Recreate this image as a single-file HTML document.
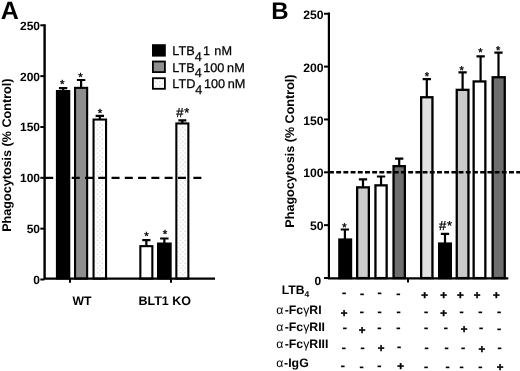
<!DOCTYPE html>
<html><head><meta charset="utf-8"><title>Figure</title>
<style>html,body{margin:0;padding:0;background:#fff;}body{width:520px;height:371px;overflow:hidden;}svg{display:block;filter:grayscale(1);}text{text-rendering:geometricPrecision;}text{font-family:"Liberation Sans",Arial,Helvetica,sans-serif;fill:#000;}.b{font-weight:bold;}</style>
</head><body>
<svg width="520" height="371" viewBox="0 0 520 371">
<defs><pattern id="dots" width="4.6" height="4.6" patternUnits="userSpaceOnUse"><rect width="4.6" height="4.6" fill="#fff"/><rect x="0.6" y="0.6" width="1.1" height="1.1" fill="#c4c4c4"/><rect x="2.9" y="2.9" width="1.1" height="1.1" fill="#c4c4c4"/></pattern></defs>
<rect width="520" height="371" fill="#fff"/>
<g id="panelA">
<text x="0.8" y="19.2" font-size="25" class="b">A</text>
<path d="M63.1 91V88.2M58.9 88.2H67.3" stroke="#000" stroke-width="2.2" fill="none"/><rect x="56.8" y="90.9" width="12.6" height="187.7" fill="#000" stroke="#000" stroke-width="1.8"/>
<path d="M81.1 87.8V80M76.9 80H85.3" stroke="#000" stroke-width="2.2" fill="none"/><rect x="75.05" y="87.85" width="12.1" height="190.75" fill="#8e8e8e" stroke="#000" stroke-width="2.1"/>
<path d="M99.8 119.5V115.8M95.6 115.8H104" stroke="#000" stroke-width="2.2" fill="none"/><rect x="93.55" y="119.55" width="12.5" height="159.05" fill="#fff" stroke="#000" stroke-width="2.1"/><rect x="95.6" y="121.6" width="8.4" height="155.5" fill="url(#dots)"/>
<path d="M146.35 246.1V240.2M142.25 240.2H150.45" stroke="#000" stroke-width="2.2" fill="none"/><rect x="140.35" y="246.15" width="12" height="32.45" fill="#fff" stroke="#000" stroke-width="2.1"/>
<path d="M164.35 243.5V238.5M160.15 238.5H168.55" stroke="#000" stroke-width="2.2" fill="none"/><rect x="157.9" y="243.4" width="12.9" height="35.2" fill="#000" stroke="#000" stroke-width="1.8"/>
<path d="M182.35 123.4V120.3M178.35 120.3H186.35" stroke="#000" stroke-width="2.2" fill="none"/><rect x="176.35" y="123.45" width="12" height="155.15" fill="#fff" stroke="#000" stroke-width="2.1"/><rect x="178.4" y="125.5" width="7.9" height="151.6" fill="url(#dots)"/>
<path d="M45.2 177.82H190M193.4 177.82H201.6" stroke="#000" stroke-width="2.3" stroke-dasharray="8 5.27" fill="none"/>
<path d="M44.6 24.3V279.8M43.4 278.6H215" stroke="#000" stroke-width="2.4" fill="none"/>
<path d="M40.3 279.5H44.5" stroke="#000" stroke-width="2" fill="none"/>
<text x="40" y="283.9" font-size="12" class="b" text-anchor="end">0</text>
<path d="M40.3 228.66H44.5" stroke="#000" stroke-width="2" fill="none"/>
<text x="40" y="233.06" font-size="12" class="b" text-anchor="end">50</text>
<path d="M40.3 177.82H44.5" stroke="#000" stroke-width="2" fill="none"/>
<text x="40" y="182.22" font-size="12" class="b" text-anchor="end">100</text>
<path d="M40.3 126.98H44.5" stroke="#000" stroke-width="2" fill="none"/>
<text x="40" y="131.38" font-size="12" class="b" text-anchor="end">150</text>
<path d="M40.3 76.14H44.5" stroke="#000" stroke-width="2" fill="none"/>
<text x="40" y="80.54" font-size="12" class="b" text-anchor="end">200</text>
<path d="M40.3 25.3H44.5" stroke="#000" stroke-width="2" fill="none"/>
<text x="40" y="29.7" font-size="12" class="b" text-anchor="end">250</text>
<path d="M70 279V282.8M171 279V282.8" stroke="#000" stroke-width="2" fill="none"/>
<text transform="translate(10.6 231.8) rotate(-90)" font-size="12.6" class="b">Phagocytosis (% Control)</text>
<text x="82" y="305.1" font-size="12.2" class="b" text-anchor="middle">WT</text>
<text x="164.7" y="305.1" font-size="12.5" class="b" text-anchor="middle">BLT1 KO</text>
<text x="62.35" y="88.3" font-size="11.6" text-anchor="middle" stroke="#000" stroke-width="0.35">*</text>
<text x="80.6" y="80.6" font-size="11.6" text-anchor="middle" stroke="#000" stroke-width="0.35">*</text>
<text x="100" y="116.8" font-size="11.6" text-anchor="middle" stroke="#000" stroke-width="0.35">*</text>
<text x="146.4" y="239.8" font-size="11.6" text-anchor="middle" stroke="#000" stroke-width="0.35">*</text>
<text x="165" y="238.4" font-size="11.6" text-anchor="middle" stroke="#000" stroke-width="0.35">*</text>
<text x="176.2" y="117.2" font-size="13" stroke="#000" stroke-width="0.3">#<tspan dx="0.8">*</tspan></text>
<rect x="152" y="44.2" width="13.8" height="12.4" fill="#000"/>
<rect x="152.9" y="61.5" width="12" height="10.6" fill="#8e8e8e" stroke="#000" stroke-width="1.8"/>
<rect x="152.9" y="78.2" width="12" height="10.6" fill="url(#dots)" stroke="#000" stroke-width="1.8"/>
<text x="172.3" y="55.3" font-size="12.7" stroke="#000" stroke-width="0.25" word-spacing="0.8">LTB<tspan dy="5.3">4</tspan><tspan dy="-5.3" dx="1.3">1 nM</tspan></text>
<text x="172.3" y="71.8" font-size="12.7" stroke="#000" stroke-width="0.25" word-spacing="-0.8">LTB<tspan dy="5.3">4</tspan><tspan dy="-5.3" dx="1.5">100 nM</tspan></text>
<text x="172.3" y="88.3" font-size="12.7" stroke="#000" stroke-width="0.25" word-spacing="-0.8">LTD<tspan dy="5.3">4</tspan><tspan dy="-5.3" dx="1.5">100 nM</tspan></text>
</g>
<g id="panelB">
<text x="271.3" y="18.8" font-size="24" class="b">B</text>
<path d="M344.9 239.4V229.5M340.75 229.5H349.05" stroke="#000" stroke-width="2.2" fill="none"/><rect x="339.35" y="239.55" width="11.7" height="38.55" fill="#000" stroke="#000" stroke-width="2.3"/>
<path d="M363 187.2V179.4M358.85 179.4H367.15" stroke="#000" stroke-width="2.2" fill="none"/><rect x="357.15" y="187.35" width="11.7" height="90.75" fill="#cdcdcd" stroke="#000" stroke-width="2.3"/>
<path d="M381.05 185.2V176.5M376.9 176.5H385.2" stroke="#000" stroke-width="2.2" fill="none"/><rect x="375.45" y="185.35" width="11.2" height="92.75" fill="#fff" stroke="#000" stroke-width="2.3"/>
<path d="M399.2 166V158.7M395.05 158.7H403.35" stroke="#000" stroke-width="2.2" fill="none"/><rect x="393.55" y="166.15" width="11.3" height="111.95" fill="#6e6e6e" stroke="#000" stroke-width="2.3"/>
<path d="M426.8 97.1V79.1M422.65 79.1H430.95" stroke="#000" stroke-width="2.2" fill="none"/><rect x="421.15" y="97.25" width="11.3" height="180.85" fill="#e2e2e2" stroke="#000" stroke-width="2.3"/>
<path d="M445 243.4V233.8M440.85 233.8H449.15" stroke="#000" stroke-width="2.2" fill="none"/><rect x="439.15" y="243.55" width="11.7" height="34.55" fill="#000" stroke="#000" stroke-width="2.3"/>
<path d="M462.6 89.7V72.3M458.45 72.3H466.75" stroke="#000" stroke-width="2.2" fill="none"/><rect x="456.75" y="89.85" width="11.7" height="188.25" fill="#cacaca" stroke="#000" stroke-width="2.3"/>
<path d="M480.6 81.3V56.3M476.45 56.3H484.75" stroke="#000" stroke-width="2.2" fill="none"/><rect x="473.65" y="81.45" width="11.7" height="196.65" fill="#fff" stroke="#000" stroke-width="2.3"/>
<path d="M498.5 77.1V52.7M494.35 52.7H502.65" stroke="#000" stroke-width="2.2" fill="none"/><rect x="492.65" y="77.25" width="12.1" height="200.85" fill="#6e6e6e" stroke="#000" stroke-width="2.3"/>
<path d="M329 172.3H520" stroke="#000" stroke-width="2.4" stroke-dasharray="4.9 2.3" fill="none"/>
<path d="M328.9 12.6V279.4M327.8 278.3H508.3" stroke="#000" stroke-width="2.2" fill="none"/>
<path d="M324 278H329" stroke="#000" stroke-width="2" fill="none"/>
<path d="M324 225.15H329" stroke="#000" stroke-width="2" fill="none"/>
<text x="323.5" y="230.22" font-size="12.2" class="b" text-anchor="end">50</text>
<path d="M324 172.3H329" stroke="#000" stroke-width="2" fill="none"/>
<text x="323.5" y="177.37" font-size="12.2" class="b" text-anchor="end">100</text>
<path d="M324 119.45H329" stroke="#000" stroke-width="2" fill="none"/>
<text x="323.5" y="124.52" font-size="12.2" class="b" text-anchor="end">150</text>
<path d="M324 66.6H329" stroke="#000" stroke-width="2" fill="none"/>
<text x="323.5" y="71.67" font-size="12.2" class="b" text-anchor="end">200</text>
<path d="M324 13.75H329" stroke="#000" stroke-width="2" fill="none"/>
<text x="323.5" y="18.82" font-size="12.2" class="b" text-anchor="end">250</text>
<text x="321.2" y="285" font-size="12" class="b" text-anchor="end">0</text>
<path d="M408 279V282.6" stroke="#000" stroke-width="2" fill="none"/>
<text transform="translate(293.6 227.7) rotate(-90)" font-size="12.6" class="b">Phagocytosis (% Control)</text>
<text x="344.4" y="230.7" font-size="11.2" text-anchor="middle" stroke="#000" stroke-width="0.35">*</text>
<text x="427" y="80.2" font-size="11.2" text-anchor="middle" stroke="#000" stroke-width="0.35">*</text>
<text x="461.8" y="73.8" font-size="11.2" text-anchor="middle" stroke="#000" stroke-width="0.35">*</text>
<text x="480.4" y="55.7" font-size="11.2" text-anchor="middle" stroke="#000" stroke-width="0.35">*</text>
<text x="498.2" y="54" font-size="11.2" text-anchor="middle" stroke="#000" stroke-width="0.35">*</text>
<text x="438.9" y="230.3" font-size="13" stroke="#000" stroke-width="0.3">#<tspan dx="0.8">*</tspan></text>
<text x="281.8" y="293.8" font-size="12.2" class="b">LTB<tspan font-size="8.5" dy="3.2">4</tspan></text>
<text x="276.2" y="313.5" font-size="12.3" class="b"><tspan font-weight="normal">α</tspan><tspan dx="1.4">-Fc</tspan><tspan font-weight="normal">γ</tspan>RI</text>
<text x="276.2" y="331.4" font-size="12.3" class="b"><tspan font-weight="normal">α</tspan><tspan dx="1.4">-Fc</tspan><tspan font-weight="normal">γ</tspan>RII</text>
<text x="276.2" y="348.2" font-size="12.3" class="b"><tspan font-weight="normal">α</tspan><tspan dx="1.4">-Fc</tspan><tspan font-weight="normal">γ</tspan>RIII</text>
<text x="276.2" y="367.0" font-size="12.3" class="b"><tspan font-weight="normal">α</tspan><tspan dx="0.8">-IgG</tspan></text>
<text x="344" y="297.28" font-size="14" class="b" text-anchor="middle">-</text>
<text x="362" y="297.68" font-size="14" class="b" text-anchor="middle">-</text>
<text x="379.7" y="297.28" font-size="14" class="b" text-anchor="middle">-</text>
<text x="398.4" y="297.57" font-size="14" class="b" text-anchor="middle">-</text>
<text x="424.6" y="298.78" font-size="11.5" class="b" text-anchor="middle" stroke="#000" stroke-width="0.45">+</text>
<text x="443.5" y="298.78" font-size="11.5" class="b" text-anchor="middle" stroke="#000" stroke-width="0.45">+</text>
<text x="460.4" y="298.78" font-size="11.5" class="b" text-anchor="middle" stroke="#000" stroke-width="0.45">+</text>
<text x="477.1" y="298.78" font-size="11.5" class="b" text-anchor="middle" stroke="#000" stroke-width="0.45">+</text>
<text x="496.3" y="298.78" font-size="11.5" class="b" text-anchor="middle" stroke="#000" stroke-width="0.45">+</text>
<text x="344" y="317.28" font-size="11.5" class="b" text-anchor="middle" stroke="#000" stroke-width="0.45">+</text>
<text x="361.8" y="315.88" font-size="14" class="b" text-anchor="middle">-</text>
<text x="379.6" y="315.68" font-size="14" class="b" text-anchor="middle">-</text>
<text x="398.5" y="315.68" font-size="14" class="b" text-anchor="middle">-</text>
<text x="426" y="315.88" font-size="14" class="b" text-anchor="middle">-</text>
<text x="443.5" y="317.08" font-size="11.5" class="b" text-anchor="middle" stroke="#000" stroke-width="0.45">+</text>
<text x="461.7" y="316.48" font-size="14" class="b" text-anchor="middle">-</text>
<text x="480.4" y="315.88" font-size="14" class="b" text-anchor="middle">-</text>
<text x="499" y="316.48" font-size="14" class="b" text-anchor="middle">-</text>
<text x="344.8" y="332.38" font-size="14" class="b" text-anchor="middle">-</text>
<text x="362.1" y="334.08" font-size="11.5" class="b" text-anchor="middle" stroke="#000" stroke-width="0.45">+</text>
<text x="379.4" y="331.98" font-size="14" class="b" text-anchor="middle">-</text>
<text x="398.3" y="332.38" font-size="14" class="b" text-anchor="middle">-</text>
<text x="426" y="332.38" font-size="14" class="b" text-anchor="middle">-</text>
<text x="445.8" y="332.38" font-size="14" class="b" text-anchor="middle">-</text>
<text x="464" y="333.48" font-size="11.5" class="b" text-anchor="middle" stroke="#000" stroke-width="0.45">+</text>
<text x="481" y="332.38" font-size="14" class="b" text-anchor="middle">-</text>
<text x="499" y="332.88" font-size="14" class="b" text-anchor="middle">-</text>
<text x="343.8" y="351.98" font-size="14" class="b" text-anchor="middle">-</text>
<text x="362.7" y="351.98" font-size="14" class="b" text-anchor="middle">-</text>
<text x="381" y="352.38" font-size="11.5" class="b" text-anchor="middle" stroke="#000" stroke-width="0.45">+</text>
<text x="399.2" y="351.38" font-size="14" class="b" text-anchor="middle">-</text>
<text x="426.6" y="351.68" font-size="14" class="b" text-anchor="middle">-</text>
<text x="446.7" y="351.98" font-size="14" class="b" text-anchor="middle">-</text>
<text x="463.1" y="352.48" font-size="14" class="b" text-anchor="middle">-</text>
<text x="481.9" y="353.08" font-size="11.5" class="b" text-anchor="middle" stroke="#000" stroke-width="0.45">+</text>
<text x="499.6" y="352.48" font-size="14" class="b" text-anchor="middle">-</text>
<text x="342.9" y="370.38" font-size="14" class="b" text-anchor="middle">-</text>
<text x="361.7" y="370.78" font-size="14" class="b" text-anchor="middle">-</text>
<text x="379.4" y="370.38" font-size="14" class="b" text-anchor="middle">-</text>
<text x="400.6" y="369.98" font-size="11.5" class="b" text-anchor="middle" stroke="#000" stroke-width="0.45">+</text>
<text x="426" y="370.78" font-size="14" class="b" text-anchor="middle">-</text>
<text x="447.7" y="370.78" font-size="14" class="b" text-anchor="middle">-</text>
<text x="461.7" y="371.18" font-size="14" class="b" text-anchor="middle">-</text>
<text x="480.4" y="370.78" font-size="14" class="b" text-anchor="middle">-</text>
<text x="500.2" y="370.58" font-size="11.5" class="b" text-anchor="middle" stroke="#000" stroke-width="0.45">+</text>
</g>
</svg></body></html>
